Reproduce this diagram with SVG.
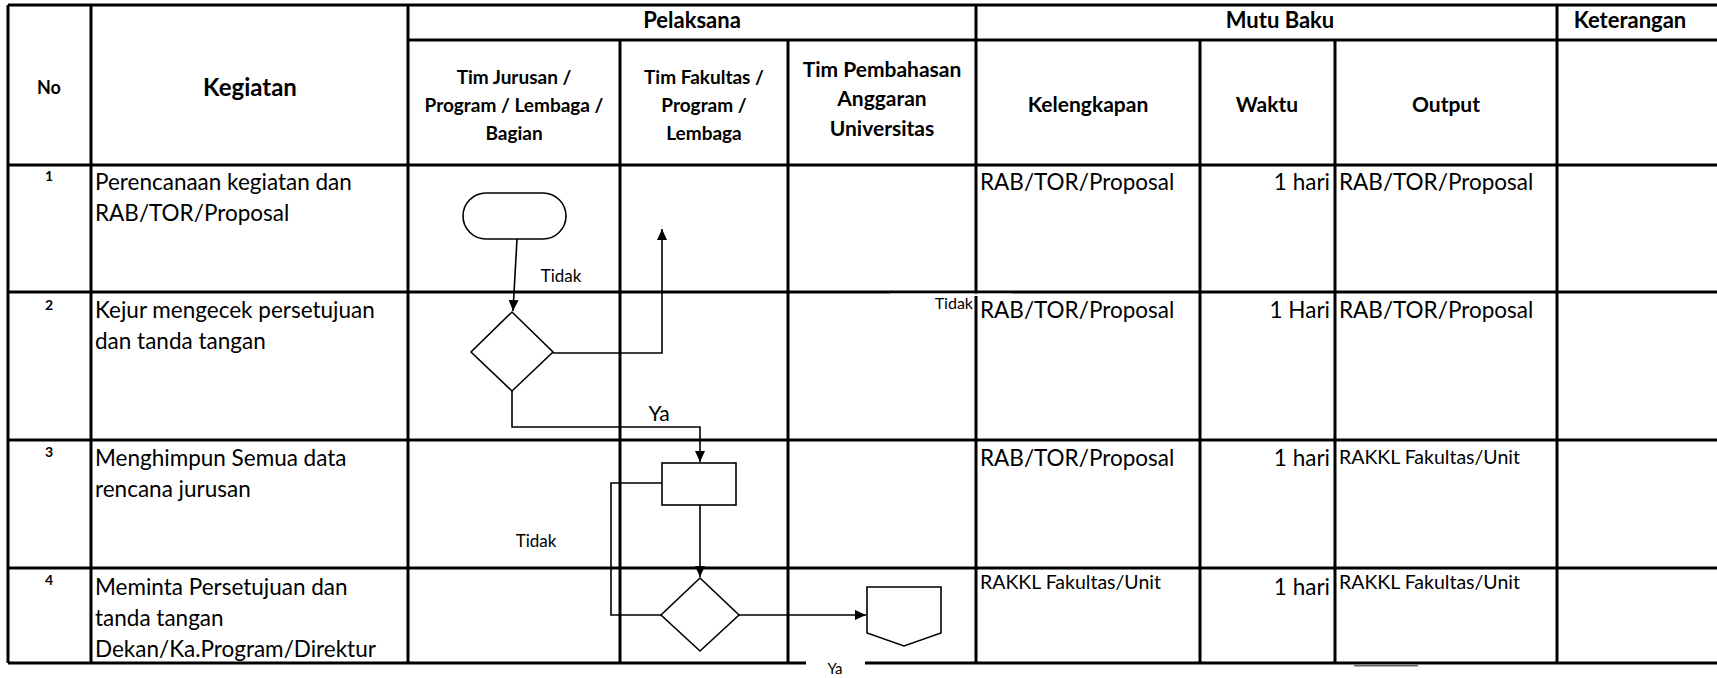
<svg xmlns="http://www.w3.org/2000/svg" width="1717" height="678" viewBox="0 0 1717 678">
<style>
.grid{stroke:#000;stroke-width:3;fill:none}
.shape{fill:#fff;stroke:#000;stroke-width:1.6}
.conn{fill:none;stroke:#000;stroke-width:1.6}
text{font-family:Lato,"Liberation Sans",sans-serif;fill:#000}
.h{font-weight:bold;text-anchor:middle}
.b{font-size:22.5px}
.s{font-size:19.5px}
.n{font-size:14px;font-weight:bold;text-anchor:middle}
.r{text-anchor:end}
.lbl{font-size:17px;text-anchor:middle}
</style>
<defs>
<marker id="arr" markerWidth="12" markerHeight="12" refX="11" refY="5.5" orient="auto" markerUnits="userSpaceOnUse">
<path d="M0,0.5 L11,5.5 L0,10.5 Z" fill="#000"/>
</marker>
</defs>
<rect width="1717" height="678" fill="#fff"/>
<g id="table">
<path class="grid" d="M8 5 H1717 M408 40 H1717 M8 165 H1717 M8 292 H1717 M8 440 H1717 M8 568 H1717 M8 663 H1717"/>
<path class="grid" d="M8 5 V663 M91 5 V663 M408 5 V663 M976 5 V663 M1557 5 V663 M620 40 V663 M788 40 V663 M1200 40 V663 M1335 40 V663"/>
<rect x="890" y="293.6" width="122" height="2.4" fill="#fff"/>
<rect x="806" y="660" width="59" height="6" fill="#fff"/>
<line x1="1354" y1="665.8" x2="1418" y2="665.8" stroke="#666" stroke-width="1.5"/>
</g>
<g id="header">
<text class="h" x="49" y="94" font-size="18">No</text>
<text class="h" x="250" y="96" font-size="24">Kegiatan</text>
<text class="h" x="692" y="28" font-size="22">Pelaksana</text>
<text class="h" x="1280" y="28" font-size="22">Mutu Baku</text>
<text class="h" x="1630" y="28" font-size="22">Keterangan</text>
<text class="h" font-size="19"><tspan x="514" y="84">Tim Jurusan /</tspan><tspan x="514" y="112">Program / Lembaga /</tspan><tspan x="514" y="140">Bagian</tspan></text>
<text class="h" font-size="19"><tspan x="704" y="84">Tim Fakultas /</tspan><tspan x="704" y="112">Program /</tspan><tspan x="704" y="140">Lembaga</tspan></text>
<text class="h" font-size="21"><tspan x="882" y="77">Tim Pembahasan</tspan><tspan x="882" y="106">Anggaran</tspan><tspan x="882" y="136">Universitas</tspan></text>
<text class="h" x="1088" y="112" font-size="21">Kelengkapan</text>
<text class="h" x="1267" y="112" font-size="21">Waktu</text>
<text class="h" x="1446" y="112" font-size="21">Output</text>
</g>
<g id="row1">
<text class="n" x="49" y="181">1</text>
<text class="b"><tspan x="95" y="190">Perencanaan kegiatan dan</tspan><tspan x="95" y="221">RAB/TOR/Proposal</tspan></text>
<text class="b" x="980" y="190">RAB/TOR/Proposal</text>
<text class="b r" x="1330" y="190">1 hari</text>
<text class="b" x="1339" y="190">RAB/TOR/Proposal</text>
</g>
<g id="row2">
<text class="n" x="49" y="310">2</text>
<text class="b"><tspan x="95" y="318">Kejur mengecek persetujuan</tspan><tspan x="95" y="349">dan tanda tangan</tspan></text>
<text class="b" x="980" y="318">RAB/TOR/Proposal</text>
<text class="b r" x="1330" y="318">1 Hari</text>
<text class="b" x="1339" y="318">RAB/TOR/Proposal</text>
</g>
<g id="row3">
<text class="n" x="49" y="457">3</text>
<text class="b"><tspan x="95" y="466">Menghimpun Semua data</tspan><tspan x="95" y="497">rencana jurusan</tspan></text>
<text class="b" x="980" y="466">RAB/TOR/Proposal</text>
<text class="b r" x="1330" y="466">1 hari</text>
<text class="s" x="1339" y="464">RAKKL Fakultas/Unit</text>
</g>
<g id="row4">
<text class="n" x="49" y="585">4</text>
<text class="b"><tspan x="95" y="595">Meminta Persetujuan dan</tspan><tspan x="95" y="626">tanda tangan</tspan><tspan x="95" y="657">Dekan/Ka.Program/Direktur</tspan></text>
<text class="s" x="980" y="589">RAKKL Fakultas/Unit</text>
<text class="b r" x="1330" y="595">1 hari</text>
<text class="s" x="1339" y="589">RAKKL Fakultas/Unit</text>
</g>
<g id="connectors">
<path class="conn" d="M517 239 L513 311" marker-end="url(#arr)"/>
<path class="conn" d="M553 353 H662 V229" marker-end="url(#arr)"/>
<path class="conn" d="M512 391 V427 H700 V462" marker-end="url(#arr)"/>
<path class="conn" d="M700 505 V577" marker-end="url(#arr)"/>
<path class="conn" d="M661 615 H611 V483 H662"/>
<path class="conn" d="M739 615 H866" marker-end="url(#arr)"/>
</g>
<g id="n-start"><rect class="shape" x="463" y="193" width="103" height="46" rx="23" ry="23"/></g>
<g id="n-check"><polygon class="shape" points="512,312 553,352 512,391 471,352"/></g>
<g id="n-collect"><rect class="shape" x="662" y="463" width="74" height="42"/></g>
<g id="n-approve"><polygon class="shape" points="700,578 739,615 700,651 661,615"/></g>
<g id="n-offpage"><polygon class="shape" points="867,587 941,587 941,633 904,646 867,633"/></g>
<g id="labels">
<text class="lbl" x="561" y="282">Tidak</text>
<text x="659" y="421" font-size="21" text-anchor="middle">Ya</text>
<text class="lbl" x="536" y="547">Tidak</text>
<text x="835" y="674" font-size="15" text-anchor="middle">Ya</text>
<text x="973" y="309" font-size="16" text-anchor="end">Tidak</text>
</g>
</svg>
